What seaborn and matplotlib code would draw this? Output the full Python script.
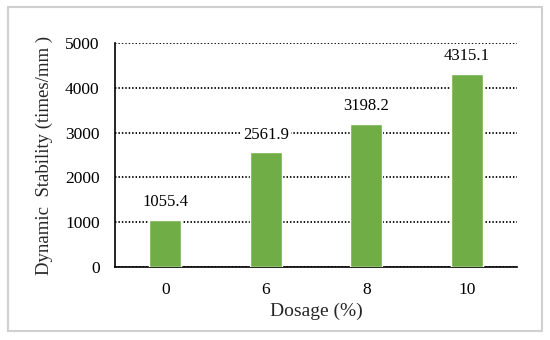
import matplotlib
matplotlib.use('Agg')
import matplotlib.pyplot as plt
import matplotlib.patches as mpatches
import seaborn as sns
import pandas as pd

dosage = ['0', '6', '8', '10']
stability = [1055.4, 2561.9, 3198.2, 4315.1]
yticks = [0, 1000, 2000, 3000, 4000, 5000]

sns.set_style('white')
plt.rcParams['font.family'] = ['Liberation Serif', 'DejaVu Serif']

df = pd.DataFrame({'Dosage': dosage, 'Stability': stability})

fig = plt.figure(figsize=(5.5, 3.4), dpi=100)
ax = fig.add_axes([0.209, 0.2147, 0.731, 0.6588])

sns.barplot(data=df, x='Dosage', y='Stability', color='#70AD47',
            saturation=1, width=0.32, ax=ax, zorder=3)

ax.set_ylim(0, 5000)
ax.set_xlim(-0.5, 3.5)
ax.set_yticks(yticks)
ax.yaxis.grid(True, linestyle=(0, (0.8, 1.1)), color='black', linewidth=1.3, zorder=0)
ax.set_axisbelow(True)

for s in ['top', 'right']:
    ax.spines[s].set_visible(False)
for s in ['left', 'bottom']:
    ax.spines[s].set_color('black')
    ax.spines[s].set_linewidth(1.2)

ax.tick_params(axis='both', length=0, labelsize=12.5, colors='black')
ax.tick_params(axis='y', pad=11)
ax.tick_params(axis='x', pad=11)

# value labels, white box so the gridline breaks behind the text
for i, v in enumerate(stability):
    ax.annotate(f'{v:.1f}', (i, v), xytext=(0, 7), textcoords='offset points',
                ha='center', va='bottom', fontsize=12, color='black',
                bbox=dict(facecolor='white', edgecolor='none', pad=1.5))

ax.set_xlabel('Dosage (%)', fontsize=14, labelpad=3)
ax.set_ylabel('Dynamic  Stability (times/mm )', fontsize=13.5, labelpad=9)

# light frame around the figure
fig.patches.append(mpatches.Rectangle((8 / 550, 9 / 340), 534 / 550, 324 / 340,
                                      transform=fig.transFigure, fill=False,
                                      edgecolor='#d0d0d0', linewidth=1.5))

fig.savefig('out.png', dpi=100)
